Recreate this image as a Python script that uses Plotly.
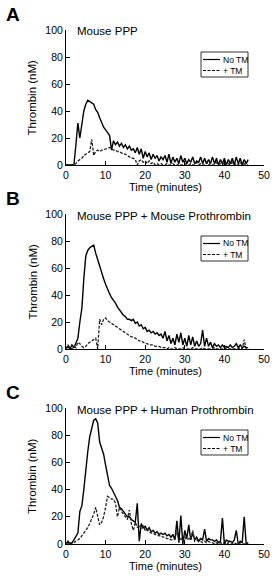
import plotly.graph_objects as go

# ---------------- data ----------------
time_min = [0, 0.5, 1, 1.5, 2, 2.5, 3, 3.5, 4, 4.5, 5, 5.5, 6, 6.5, 7, 7.5, 8, 8.5, 9, 9.5,
            10, 10.5, 11, 11.5, 12, 12.5, 13, 13.5, 14, 14.5, 15, 15.5, 16, 16.5, 17, 17.5, 18, 18.5, 19, 19.5,
            20, 20.5, 21, 21.5, 22, 22.5, 23, 23.5, 24, 24.5, 25, 25.5, 26, 26.5, 27, 27.5, 28, 28.5, 29, 29.5,
            30, 30.5, 31, 31.5, 32, 32.5, 33, 33.5, 34, 34.5, 35, 35.5, 36, 36.5, 37, 37.5, 38, 38.5, 39, 39.5,
            40, 40.5, 41, 41.5, 42, 42.5, 43, 43.5, 44, 44.5, 45, 45.5, 46]

# Panel A: Mouse PPP
a_no_tm = [0, 0, 0, 0, 0, 15, 31, 20, 32, 40, 45, 48, 47, 46, 45, 41, 39, 35, 31, 28,
           26, 24, 22, 11, 18, 15, 17, 14, 16, 13, 15, 12, 14, 11, 12, 9, 13, 8, 12, 5,
           10, 6, 9, 4, 8, 5, 7, 3, 6, 4, 7, 2, 8, 1, 6, 2, 5, 1, 7, 2,
           5, 1, 4, 2, 6, 1, 3, 2, 6, 1, 5, 1, 4, 1, 6, 1, 5, 0, 4, 1,
           5, 0, 4, 1, 5, 0, 6, 1, 5, 0, 4, 1, 4]
a_tm = [0, 0, 0, 0, 0, 1, 3, 4, 5, 7, 8, 9, 10, 19, 7, 10, 11, 10, 11, 11,
        12, 12, 13, 12, 11, 11, 10, 10, 9, 8, 8, 7, 6, 5, 5, 4, 0, 3, 4, 2,
        3, 1, 3, 1, 2, 0, 1, 0, 1, 0, 0, 1, 0, 0, 1, 0, 0, 1, 0, 0,
        1, 0, 0, 1, 0, 0, 2, 0, 1, 0, 0, 2, 0, 1, 0, 0, 2, 0, 1, 0,
        2, 0, 1, 0, 2, 0, 1, 0, 2, 0, 1, 0, 0]

# Panel B: Mouse PPP + Mouse Prothrombin
b_no_tm = [0, 2, 0, 3, 1, 4, 8, 20, 30, 52, 69, 73, 75, 76, 77, 71, 66, 62, 57, 52,
           48, 44, 41, 38, 36, 34, 31, 29, 27, 25, 24, 22, 22, 21, 22, 19, 20, 17, 18, 15,
           16, 13, 14, 12, 13, 11, 12, 10, 11, 8, 13, 6, 10, 4, 8, 3, 11, 5, 12, 3,
           8, 2, 10, 3, 9, 2, 6, 2, 4, 14, 2, 8, 2, 5, 1, 4, 2, 3, 1, 3,
           1, 2, 1, 3, 1, 2, 4, 1, 3, 1, 2, 1, 1]
b_tm = [0, 3, 1, 0, 2, 1, 5, 4, 2, 1, 2, 4, 5, 6, 7, 8, 0, 22, 18, 22,
        23, 21, 20, 19, 18, 17, 16, 15, 14, 13, 12, 11, 10, 9, 9, 8, 7, 6, 6, 5,
        4, 4, 3, 3, 3, 2, 2, 2, 1, 1, 1, 0, 1, 0, 0, 1, 0, 0, 0, 1,
        0, 0, 0, 0, 1, 0, 0, 0, 0, 1, 0, 0, 0, 0, 0, 1, 0, 0, 0, 0,
        0, 1, 0, 0, 0, 0, 0, 0, 1, 0, 7, 0, 0]

# Panel C: Mouse PPP + Human Prothrombin
c_no_tm = [0, 2, 0, 1, 3, 6, 8, 24, 28, 40, 55, 68, 79, 86, 91, 92, 89, 75, 70, 66,
           58, 50, 43, 41, 38, 35, 32, 27, 26, 24, 22, 20, 20, 18, 17, 16, 30, 2, 15, 12,
           13, 10, 12, 9, 10, 8, 9, 7, 8, 7, 8, 6, 7, 5, 7, 3, 17, 1, 21, 0,
           10, 4, 14, 3, 8, 3, 5, 2, 4, 3, 11, 2, 4, 3, 3, 2, 3, 1, 2, 19,
           0, 3, 2, 2, 1, 3, 10, 0, 2, 1, 20, 0, 1]
c_tm = [0, 0, 1, 0, 1, 2, 3, 4, 6, 8, 10, 12, 15, 18, 22, 27, 20, 14, 16, 20,
        27, 35, 34, 33, 33, 30, 20, 27, 24, 22, 20, 18, 25, 15, 10, 16, 12, 14, 11, 13,
        10, 11, 9, 8, 8, 7, 7, 6, 6, 5, 5, 4, 4, 3, 3, 4, 10, 2, 4, 2,
        5, 3, 4, 3, 10, 2, 3, 2, 2, 1, 2, 1, 2, 1, 1, 0, 1, 0, 1, 0,
        1, 0, 1, 0, 0, 1, 0, 0, 1, 0, 0, 0, 0]

panel_letters = ["A", "B", "C"]
panel_titles = ["Mouse PPP", "Mouse PPP + Mouse Prothrombin", "Mouse PPP + Human Prothrombin"]
series_names = ["No TM", "+ TM"]
x_ticks = [0, 10, 20, 30, 40, 50]
y_ticks = [0, 20, 40, 60, 80, 100]
x_title = "Time (minutes)"
y_title = "Thrombin (nM)"

# ---------------- layout helpers ----------------
W, H = 277, 587
FONT = "Liberation Sans, Arial, Helvetica, sans-serif"
plot_left, plot_right = 66, 264
panel_tops = [30, 214, 408]
panel_bottoms = [165, 349, 544]

def px(x):
    return x / W

def py(y):
    return 1 - y / H

fig = go.Figure()
panels = [(a_no_tm, a_tm), (b_no_tm, b_tm), (c_no_tm, c_tm)]
annotations = []
shapes = []
for i, (solid, dashed) in enumerate(panels):
    sfx = "" if i == 0 else str(i + 1)
    xa, ya = "x" + sfx, "y" + sfx
    fig.add_trace(go.Scatter(x=time_min, y=solid, mode="lines", name=series_names[0],
                             line=dict(color="black", width=1.4), xaxis=xa, yaxis=ya,
                             showlegend=False))
    fig.add_trace(go.Scatter(x=time_min, y=dashed, mode="lines", name=series_names[1],
                             line=dict(color="#222", width=1.3, dash="3px,1.5px"), xaxis=xa, yaxis=ya,
                             showlegend=False))
    axis_common = dict(showline=True, linecolor="black", linewidth=1, ticks="inside",
                       ticklen=4, tickcolor="black", showgrid=False, zeroline=False,
                       tickfont=dict(family=FONT, size=10.5, color="black"), automargin=False)
    fig.update_layout(**{
        "xaxis" + sfx: dict(domain=[px(plot_left), px(plot_right)], range=[0, 50],
                            tickvals=x_ticks, anchor=ya, **axis_common),
        "yaxis" + sfx: dict(domain=[py(panel_bottoms[i]), py(panel_tops[i])], range=[0, 100],
                            tickvals=y_ticks, anchor=xa, **axis_common),
    })
    top, bot = panel_tops[i], panel_bottoms[i]
    # panel letter
    annotations.append(dict(text="<b>%s</b>" % panel_letters[i], x=px(13), y=py(top - 16),
                            xref="paper", yref="paper", xanchor="center", yanchor="middle",
                            showarrow=False, font=dict(family=FONT, size=19, color="black")))
    # panel title
    annotations.append(dict(text=panel_titles[i], x=px(75), y=py(top + 1.5),
                            xref="paper", yref="paper", xanchor="left", yanchor="middle",
                            showarrow=False, font=dict(family=FONT, size=11.5, color="black")))
    # axis titles
    annotations.append(dict(text=x_title, x=px((plot_left + plot_right) / 2), y=py(bot + 22),
                            xref="paper", yref="paper", xanchor="center", yanchor="middle",
                            showarrow=False, font=dict(family=FONT, size=11, color="black")))
    annotations.append(dict(text=y_title, x=px(32), y=py((top + bot) / 2), textangle=-90,
                            xref="paper", yref="paper", xanchor="center", yanchor="middle",
                            showarrow=False, font=dict(family=FONT, size=11.5, color="black")))
    # legend box
    lx0, lx1 = 201, 248
    shapes.append(dict(type="rect", xref="paper", yref="paper", x0=px(lx0), x1=px(lx1),
                       y0=py(top + 47), y1=py(top + 22), line=dict(color="black", width=0.8),
                       fillcolor="white", layer="above"))
    for j, (dash, name) in enumerate([("solid", series_names[0]), ("3px,1.5px", series_names[1])]):
        yy = top + 29.5 + 11 * j
        shapes.append(dict(type="line", xref="paper", yref="paper", x0=px(203), x1=px(220),
                           y0=py(yy), y1=py(yy), line=dict(color="black", width=1.2, dash=dash),
                           layer="above"))
        annotations.append(dict(text=name, x=px(220.5), y=py(yy), xref="paper", yref="paper",
                                xanchor="left", yanchor="middle", showarrow=False,
                                font=dict(family=FONT, size=8.5, color="black")))

fig.update_layout(width=W, height=H, margin=dict(l=0, r=0, t=0, b=0),
                  plot_bgcolor="white", paper_bgcolor="white",
                  annotations=annotations, shapes=shapes, showlegend=False)

fig.write_html("out.html")
